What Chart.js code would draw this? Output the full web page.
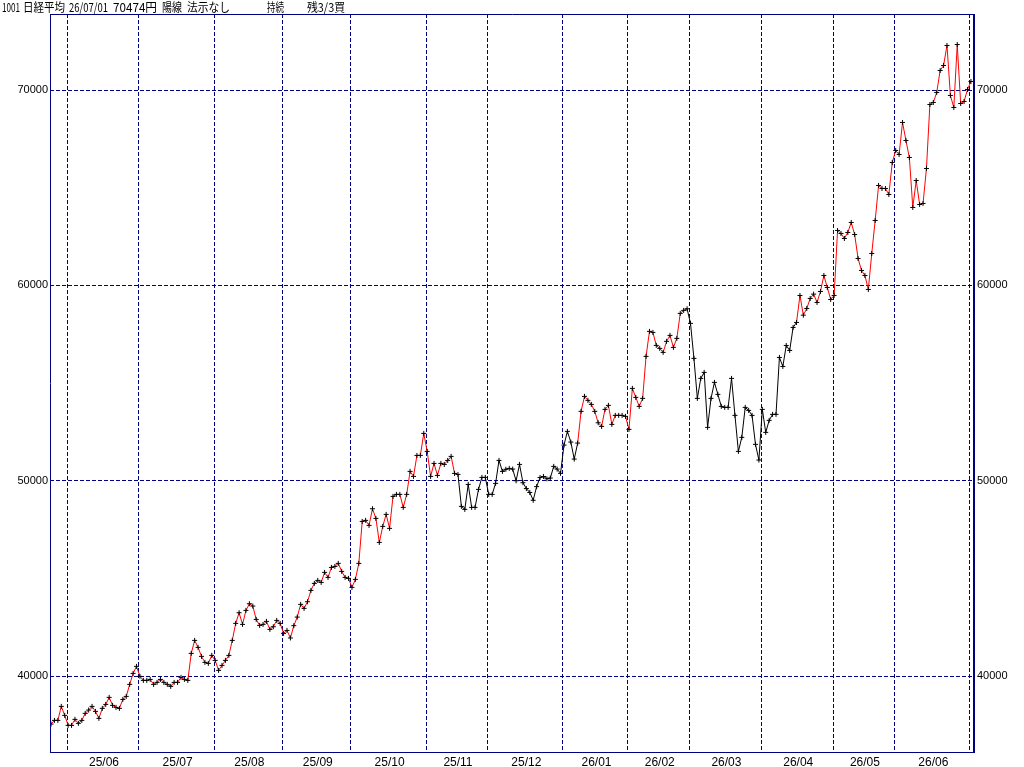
<!DOCTYPE html>
<html>
<head>
<meta charset="utf-8">
<script src="https://cdn.jsdelivr.net/npm/chart.js@4.4.1/dist/chart.umd.min.js"></script>
<style>
    html, body { margin: 0; padding: 0; background: #fff; }
    #wrap { position: relative; width: 1024px; height: 767px; }
</style>
</head>
<body>
<div id="wrap"><canvas id="chart" width="1024" height="767"></canvas></div>
<script>
// daily closes, 25/05/26 .. 26/07/01 (one value per trading day)
const closes = [
    37542, 37730, 37730, 38447, 37986, 37474, 37474, 37782, 37577, 37730,
    38089, 38259, 38447, 38191, 37833, 38345, 38549, 38908, 38498, 38396,
    38345, 38805, 38959, 39573, 40137, 40495, 39985, 39778, 39778, 39829,
    39573, 39676, 39829, 39676, 39573, 39471, 39676, 39676, 39932, 39829,
    39778, 41161, 41826, 41468, 41007, 40700, 40649, 41058, 40802, 40290,
    40546, 40802, 41058, 41826, 42697, 43243, 42645, 43362, 43703, 43584,
    42901, 42594, 42645, 42799, 42389, 42526, 42850, 42697, 42184, 42338,
    41950, 42580, 43020, 43671, 43466, 43806, 44386, 44744, 44898, 44795,
    45308, 45052, 45564, 45615, 45769, 45359, 45052, 45001, 44540, 44950,
    45769, 47919, 47971, 47714, 48567, 48073, 46844, 47663, 48278, 47561,
    49199, 49302, 49302, 48636, 49302, 50479, 50223, 51298, 51298, 52425,
    51503, 50223, 50888, 50274, 50888, 50837, 51042, 51247, 50377, 50325,
    48688, 48534, 49813, 48636, 48636, 49558, 50172, 50172, 49302, 49302,
    49865, 51042, 50479, 50590, 50632, 50598, 50000, 50838, 49900, 49600,
    49400, 49000, 49700, 50168, 50219, 50100, 50138, 50737, 50598, 50378,
    51827, 52528, 51981, 51110, 51930, 53553, 54320, 54116, 53911, 53553,
    52970, 52783, 53655, 53860, 52887, 53348, 53348, 53348, 53297, 52631,
    54730, 54269, 53808, 54218, 56369, 57649, 57597, 56932, 56778, 56573,
    57137, 57444, 56829, 57290, 58570, 58724, 58807, 58058, 56266, 54218,
    55242, 55549, 52733, 54218, 55037, 54423, 53808, 53757, 53757, 55242,
    53348, 51503, 52221, 53757, 53604, 53348, 51863, 51059, 53655, 52477,
    53092, 53399, 53399, 56314, 55853, 56928, 56672, 57850, 58106, 59488,
    58479, 58822, 59334, 59555, 59130, 59693, 60512, 59898, 59283, 59488,
    62816, 62662, 62406, 62714, 63226, 62611, 61382, 60768, 60512, 59795,
    61638, 63328, 65120, 64966, 64966, 64659, 66298, 66912, 66707, 68346,
    67424, 66554, 63994, 65376, 64147, 64198, 65990, 69267, 69370, 69882,
    71008, 71264, 72288, 69728, 69114, 72339, 69318, 69421, 70037, 70446,
];

// index of the first trading day of each month (grid lines)
const monthStarts = [5, 26, 48, 68, 88, 110, 128, 150, 169, 187, 208, 229, 247, 269];
const monthLabels = ['25/06', '25/07', '25/08', '25/09', '25/10', '25/11', '25/12',
    '26/01', '26/02', '26/03', '26/04', '26/05', '26/06'];
const yTicks = [40000, 50000, 60000, 70000];

// holding periods: segments inside these index ranges are red
const holdRanges = [[0, 119], [154, 186], [218, 269]];

// title pieces: text, left x, width
const titleParts = [
    ['1001', 2, 18], ['日経平均', 23, 42], ['26/07/01', 69, 39], ['70474円', 113, 44],
    ['陽線', 162, 20], ['法示なし', 187, 43], ['持続', 267, 17], ['残3/3買', 307, 38],
];

const NAVY = '#000080';
const FONT = 'Liberation Sans, Arial, sans-serif';

function isHold(i) {
    return holdRanges.some(([a, b]) => i > a && i <= b);
}

const framePlugin = {
    id: 'frame',
    afterDraw(chart) {
        const {ctx, chartArea: a} = chart;
        ctx.save();
        ctx.strokeStyle = NAVY;
        ctx.lineWidth = 1;
        ctx.beginPath();
        ctx.moveTo(50.5, a.top + 0.5);
        ctx.lineTo(a.right, a.top + 0.5);
        ctx.moveTo(50.5, a.top);
        ctx.lineTo(50.5, a.bottom);
        ctx.moveTo(50, a.bottom - 0.5);
        ctx.lineTo(a.right, a.bottom - 0.5);
        ctx.stroke();
        ctx.fillStyle = NAVY;
        ctx.fillRect(a.right - 1, a.top, 2, a.bottom - a.top);

        ctx.fillStyle = '#000';
        ctx.font = '12px "Noto Sans CJK JP", sans-serif';
        ctx.textBaseline = 'middle';
        titleParts.forEach(([text, x, w]) => ctx.fillText(text, x, 7, w));
        ctx.restore();
    },
};

const xMin = -0.3;
const xMax = 269.9;
const plain = (v) => String(v);

new Chart(document.getElementById('chart'), {
    type: 'line',
    data: {
        datasets: [{
            data: closes.map((v, i) => ({x: i, y: v})),
            borderWidth: 1,
            borderColor: '#000',
            tension: 0,
            pointStyle: 'cross',
            pointRadius: 2.5,
            pointBorderWidth: 1,
            pointBorderColor: '#000',
            pointBackgroundColor: '#000',
            segment: {
                borderColor: (ctx) => (isHold(ctx.p1DataIndex) ? '#ff0000' : '#000000'),
            },
        }],
    },
    options: {
        responsive: false,
        animation: false,
        devicePixelRatio: 1,
        layout: {padding: {top: 14, left: 0, right: 0, bottom: 0}},
        plugins: {legend: {display: false}, tooltip: {enabled: false}},
        scales: {
            x: {
                type: 'linear',
                position: 'bottom',
                min: xMin,
                max: xMax,
                afterBuildTicks: (s) => { s.ticks = monthStarts.map((v) => ({value: v - 0.3})); },
                afterFit: (s) => { s.height = 0; },
                grid: {color: NAVY, lineWidth: 1, drawTicks: false},
                border: {display: false, dash: [4, 2]},
                ticks: {display: false},
            },
            x2: {
                type: 'linear',
                position: 'bottom',
                min: xMin,
                max: xMax,
                afterBuildTicks: (s) => {
                    s.ticks = monthLabels.map((_, k) => ({value: (monthStarts[k] + monthStarts[k + 1]) / 2}));
                },
                afterFit: (s) => { s.height = 14; },
                grid: {display: false, drawTicks: false},
                border: {display: false},
                ticks: {
                    autoSkip: false,
                    maxRotation: 0,
                    padding: 2,
                    color: '#000',
                    font: {family: FONT, size: 12},
                    callback: (v, i) => monthLabels[i],
                },
            },
            y: {
                type: 'linear',
                position: 'left',
                min: 36060,
                max: 73900,
                afterBuildTicks: (s) => { s.ticks = yTicks.map((v) => ({value: v})); },
                afterFit: (s) => { s.width = 50; },
                grid: {color: NAVY, lineWidth: 1, drawTicks: false},
                border: {display: false, dash: [4, 2]},
                ticks: {padding: 2, color: '#000', font: {family: FONT, size: 11}, callback: plain},
            },
            y2: {
                type: 'linear',
                position: 'right',
                min: 36060,
                max: 73900,
                afterBuildTicks: (s) => { s.ticks = yTicks.map((v) => ({value: v})); },
                afterFit: (s) => { s.width = 50; },
                grid: {display: false, drawTicks: false},
                border: {display: false},
                ticks: {padding: 3, color: '#000', font: {family: FONT, size: 11}, callback: plain},
            },
        },
    },
    plugins: [framePlugin],
});
</script>
</body>
</html>
